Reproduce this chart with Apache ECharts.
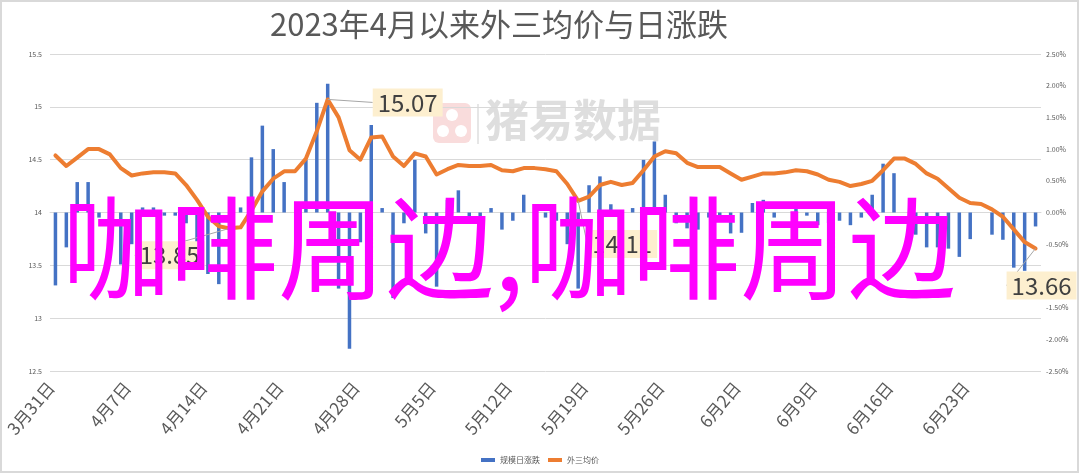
<!DOCTYPE html>
<html>
<head>
<meta charset="utf-8">
<script src="https://cdn.jsdelivr.net/npm/echarts@6/dist/echarts.min.js"></script>
<style>
html,body{margin:0;padding:0;background:#fff;}
#c{width:1080px;height:474px;}
</style>
</head>
<body>
<div id="c"></div>
<script>
const dates = ['3月31日',
'4月1日','4月2日','4月3日','4月4日','4月5日','4月6日','4月7日','4月8日','4月9日','4月10日',
'4月11日','4月12日','4月13日','4月14日','4月15日','4月16日','4月17日','4月18日','4月19日','4月20日',
'4月21日','4月22日','4月23日','4月24日','4月25日','4月26日','4月27日','4月28日','4月29日','4月30日',
'5月1日','5月2日','5月3日','5月4日','5月5日','5月6日','5月7日','5月8日','5月9日','5月10日',
'5月11日','5月12日','5月13日','5月14日','5月15日','5月16日','5月17日','5月18日','5月19日','5月20日',
'5月21日','5月22日','5月23日','5月24日','5月25日','5月26日','5月27日','5月28日','5月29日','5月30日','5月31日',
'6月1日','6月2日','6月3日','6月4日','6月5日','6月6日','6月7日','6月8日','6月9日','6月10日',
'6月11日','6月12日','6月13日','6月14日','6月15日','6月16日','6月17日','6月18日','6月19日','6月20日',
'6月21日','6月22日','6月23日','6月24日','6月25日','6月26日','6月27日','6月28日','6月29日'];

// 外三均价 (元/kg)
const avgPrice = [14.54,14.44,14.52,14.60,14.60,14.55,14.42,14.35,14.37,14.38,
14.38,14.37,14.26,14.12,13.96,13.87,13.85,13.86,14.02,14.20,
14.32,14.39,14.39,14.51,14.77,15.07,14.90,14.59,14.50,14.71,
14.72,14.53,14.44,14.56,14.53,14.36,14.41,14.45,14.44,14.44,
14.45,14.40,14.39,14.42,14.42,14.41,14.39,14.27,14.11,14.15,
14.26,14.29,14.26,14.28,14.40,14.53,14.58,14.56,14.47,14.43,
14.43,14.43,14.37,14.31,14.34,14.37,14.37,14.38,14.40,14.39,
14.36,14.31,14.29,14.25,14.27,14.30,14.40,14.51,14.51,14.46,
14.37,14.32,14.23,14.14,14.09,14.08,14.03,13.96,13.84,13.72,13.66];

// 规模日涨跌 (%)
const dailyChange = [-1.15,-0.55,0.48,0.48,-0.08,-0.33,-0.82,-0.50,0.08,0.08,
-0.05,-0.05,-0.17,-0.50,-0.97,-1.13,-0.33,0.08,0.87,1.37,
1.00,0.48,0,0.83,1.73,2.03,-1.20,-2.15,-0.47,1.38,
0.07,-1.35,-0.17,0.83,-0.33,-1.17,0.20,0.35,-0.07,-0.07,
0.07,-0.27,-0.13,0.28,0,-0.08,-0.13,-0.50,-1.20,0.43,
0.57,0.13,-0.08,0.07,0.83,1.12,0.28,-0.17,-0.25,-0.27,
-0.08,-0.08,-0.33,-0.32,0.15,0.20,-0.08,0,0.15,-0.05,
-0.20,-0.17,-0.13,-0.20,-0.08,0.28,0.77,0.62,0,-0.35,
-0.55,-0.55,-0.57,-0.70,-0.42,0,-0.35,-0.43,-0.87,-0.92,-0.22];

const leftTicks = ['12.5','13','13.5','14','14.5','15','15.5'];
const labelledIdx = [25, 16, 48, 90];
const labelShift = {25:[80,3], 16:[-60,27], 48:[44,43], 90:[6,37]};

const FONT = '"Noto Sans CJK SC", "Noto Sans", sans-serif';
const chart = echarts.init(document.getElementById('c'), null, {renderer:'canvas'});

const lineData = avgPrice.map((v, i) => {
  if (labelledIdx.indexOf(i) >= 0) {
    return {value: v, label: {show: true}};
  }
  return v;
});

chart.setOption({
  animation: false,
  textStyle: {fontFamily: FONT},
  title: {
    text: '2023年4月以来外三均价与日涨跌',
    left: 494, top: 4, textAlign: 'center',
    textStyle: {fontSize: 31, fontWeight: 'normal', color: '#595959', fontFamily: FONT}
  },
  legend: {
    bottom: 5, left: 'center',
    itemWidth: 14, itemHeight: 4, itemGap: 8,
    textStyle: {fontSize: 8, color: '#595959'},
    data: [{name: '规模日涨跌', icon: 'rect'}, {name: '外三均价', icon: 'rect'}]
  },
  grid: {left: 50, right: 39, top: 54, bottom: 103},
  xAxis: {
    type: 'category', data: dates, boundaryGap: true,
    axisLine: {lineStyle: {color: '#d9d9d9'}},
    axisTick: {interval: 6, length: 6, lineStyle: {color: '#d9d9d9'}},
    axisLabel: {interval: 6, rotate: 50, fontSize: 17, color: '#595959', margin: 8,
      padding: [0, 7, 0, 0]}
  },
  yAxis: [
    {type: 'value', min: 12.5, max: 15.5, interval: 0.5,
     axisLine: {show: false}, axisTick: {show: false},
     splitLine: {lineStyle: {color: '#d9d9d9'}},
     axisLabel: {fontSize: 7, color: '#595959', margin: 8,
       formatter: v => leftTicks[Math.round((v - 12.5) / 0.5)]}},
    {type: 'value', min: -2.5, max: 2.5, interval: 0.5,
     axisLine: {show: false}, axisTick: {show: false},
     splitLine: {show: false},
     axisLabel: {fontSize: 7, color: '#595959', margin: 5,
       formatter: v => v.toFixed(2) + '%'}}
  ],
  series: [
    {name: '规模日涨跌', type: 'bar', yAxisIndex: 1, data: dailyChange,
     barWidth: 3.5, itemStyle: {color: '#4472c4'}, z: 2},
    {name: '外三均价', type: 'line', yAxisIndex: 0, data: lineData,
     symbol: 'circle', symbolSize: 0, showSymbol: true, showAllSymbol: true,
     lineStyle: {color: '#ed7d31', width: 4, cap: 'round', join: 'round'},
     itemStyle: {color: '#ed7d31'},
     z: 3,
     label: {show: false, position: 'inside', fontSize: 24, color: '#404040',
       backgroundColor: '#fdefcf', padding: [3, 5, 1, 5], fontFamily: FONT,
       formatter: p => p.value.toFixed(2)},
     labelLine: {show: true, lineStyle: {color: '#a6a6a6', width: 1}},
     labelLayout: p => {
       const s = labelShift[p.dataIndex];
       return s ? {dx: s[0], dy: s[1]} : {};
     }}
  ],
  graphic: [
    {type: 'rect', z: -10, silent: true,
     shape: {x: 433, y: 103, width: 38, height: 40, r: 6},
     style: {fill: '#f9dcdc'}},
    {type: 'circle', z: -9, silent: true, shape: {cx: 452, cy: 115, r: 6}, style: {fill: '#fff'}},
    {type: 'circle', z: -9, silent: true, shape: {cx: 443, cy: 131, r: 6}, style: {fill: '#fff'}},
    {type: 'circle', z: -9, silent: true, shape: {cx: 461, cy: 131, r: 6}, style: {fill: '#fff'}},
    {type: 'rect', z: -10, silent: true, shape: {x: 477, y: 104, width: 2, height: 40}, style: {fill: '#e6e6e6'}},
    {type: 'text', z: -10, silent: true, left: 485, top: 98,
     style: {text: '猪易数据', font: 'bold 44px "Noto Sans CJK SC"', fill: '#dedede'}},
    {type: 'text', z: 100, silent: true, x: 509, y: 248, scaleY: 1.04, originX: 0, originY: 0,
     style: {text: '咖啡周边,咖啡周边', font: '108px "Noto Sans CJK SC"', fill: '#ff00ff',
       textAlign: 'center', textVerticalAlign: 'middle'}},
    {type: 'rect', z: 100, silent: true, shape: {x: 1, y: 1, width: 1077, height: 471},
     style: {fill: 'none', stroke: '#d9d9d9', lineWidth: 2}}
  ]
});
</script>
</body>
</html>
